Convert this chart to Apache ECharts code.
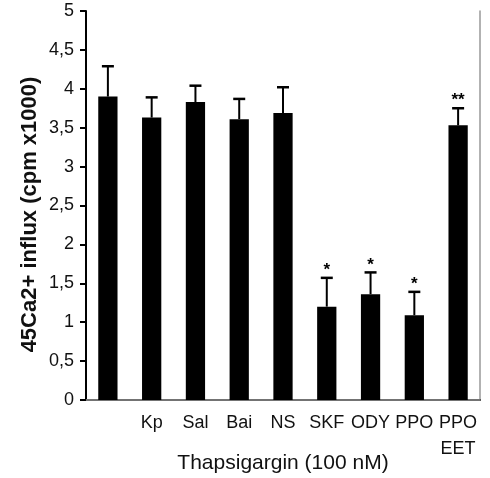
<!DOCTYPE html>
<html>
<head>
<meta charset="utf-8">
<script src="https://cdn.jsdelivr.net/npm/echarts@6/dist/echarts.min.js"></script>
<style>
  html, body { margin: 0; padding: 0; background: #fff; }
  #chart { width: 490px; height: 478px; }
</style>
</head>
<body>
<div id="chart"></div>
<script>
const categories = ["", "Kp", "Sal", "Bai", "NS", "SKF", "ODY", "PPO", "PPO\nEET"];
const means = [3.9, 3.63, 3.83, 3.61, 3.69, 1.2, 1.36, 1.09, 3.53];
const errUpper = [4.29, 3.89, 4.04, 3.87, 4.02, 1.57, 1.64, 1.39, 3.75];
const marks = ["", "", "", "", "", "*", "*", "*", "**"];

const FONT = "Liberation Sans, Arial, sans-serif";

const chart = echarts.init(document.getElementById("chart"));

chart.setOption({
  animation: false,
  grid: { left: 86, top: 11, right: 10, bottom: 78, outerBoundsMode: "none" },
  xAxis: [
    {
      type: "category",
      data: categories,
      axisLine: { lineStyle: { color: "#000", width: 2 } },
      axisTick: { length: 6, lineStyle: { color: "#000", width: 2 } },
      axisLabel: {
        color: "#111",
        fontFamily: FONT,
        fontSize: 18,
        margin: 10,
        lineHeight: 26,
        interval: 0
      },
      name: "Thapsigargin (100 nM)",
      nameLocation: "middle",
      nameGap: 53,
      nameMoveOverlap: false,
      nameTextStyle: { color: "#111", fontFamily: FONT, fontSize: 21 }
    },
    {
      type: "category",
      position: "top",
      data: categories,
      axisLine: { lineStyle: { color: "#999", width: 1.5 } },
      axisTick: { show: false },
      axisLabel: { show: false }
    }
  ],
  yAxis: [
    {
      type: "value",
      min: 0,
      max: 5,
      interval: 0.5,
      splitLine: { show: false },
      axisLine: { show: true, lineStyle: { color: "#000", width: 2 } },
      axisTick: { show: true, length: 6, lineStyle: { color: "#000", width: 2 } },
      axisLabel: {
        color: "#111",
        fontFamily: FONT,
        fontSize: 18,
        margin: 12,
        formatter: (v) => String(v).replace(".", ",")
      },
      name: "45Ca2+ influx (cpm x1000)",
      nameLocation: "middle",
      nameGap: 45,
      nameMoveOverlap: false,
      nameTextStyle: {
        color: "#111",
        fontFamily: FONT,
        fontSize: 22,
        fontWeight: "bold",
        padding: [0, 18, 0, 0]
      }
    },
    {
      type: "value",
      position: "right",
      min: 0,
      max: 5,
      splitLine: { show: false },
      axisLine: { show: true, lineStyle: { color: "#999", width: 1.5 } },
      axisTick: { show: false },
      axisLabel: { show: false }
    }
  ],
  series: [
    {
      type: "bar",
      data: means,
      barWidth: "44%",
      itemStyle: { color: "#000" }
    },
    {
      type: "custom",
      data: means.map((m, i) => [i, m, errUpper[i]]),
      renderItem: (params, api) => {
        const i = api.value(0);
        const base = api.coord([i, api.value(1)]);
        const top = api.coord([i, api.value(2)]);
        const half = 6;
        const children = [
          {
            type: "line",
            shape: { x1: base[0], y1: base[1], x2: top[0], y2: top[1] },
            style: { stroke: "#000", lineWidth: 2 }
          },
          {
            type: "line",
            shape: { x1: top[0] - half, y1: top[1], x2: top[0] + half, y2: top[1] },
            style: { stroke: "#000", lineWidth: 2.5 }
          }
        ];
        if (marks[i]) {
          children.push({
            type: "text",
            style: {
              text: marks[i],
              x: top[0],
              y: top[1] + 1,
              align: "center",
              verticalAlign: "bottom",
              fontFamily: FONT,
              fontSize: 17,
              fontWeight: "bold",
              fill: "#000"
            }
          });
        }
        return { type: "group", children };
      }
    }
  ]
});
</script>
</body>
</html>
